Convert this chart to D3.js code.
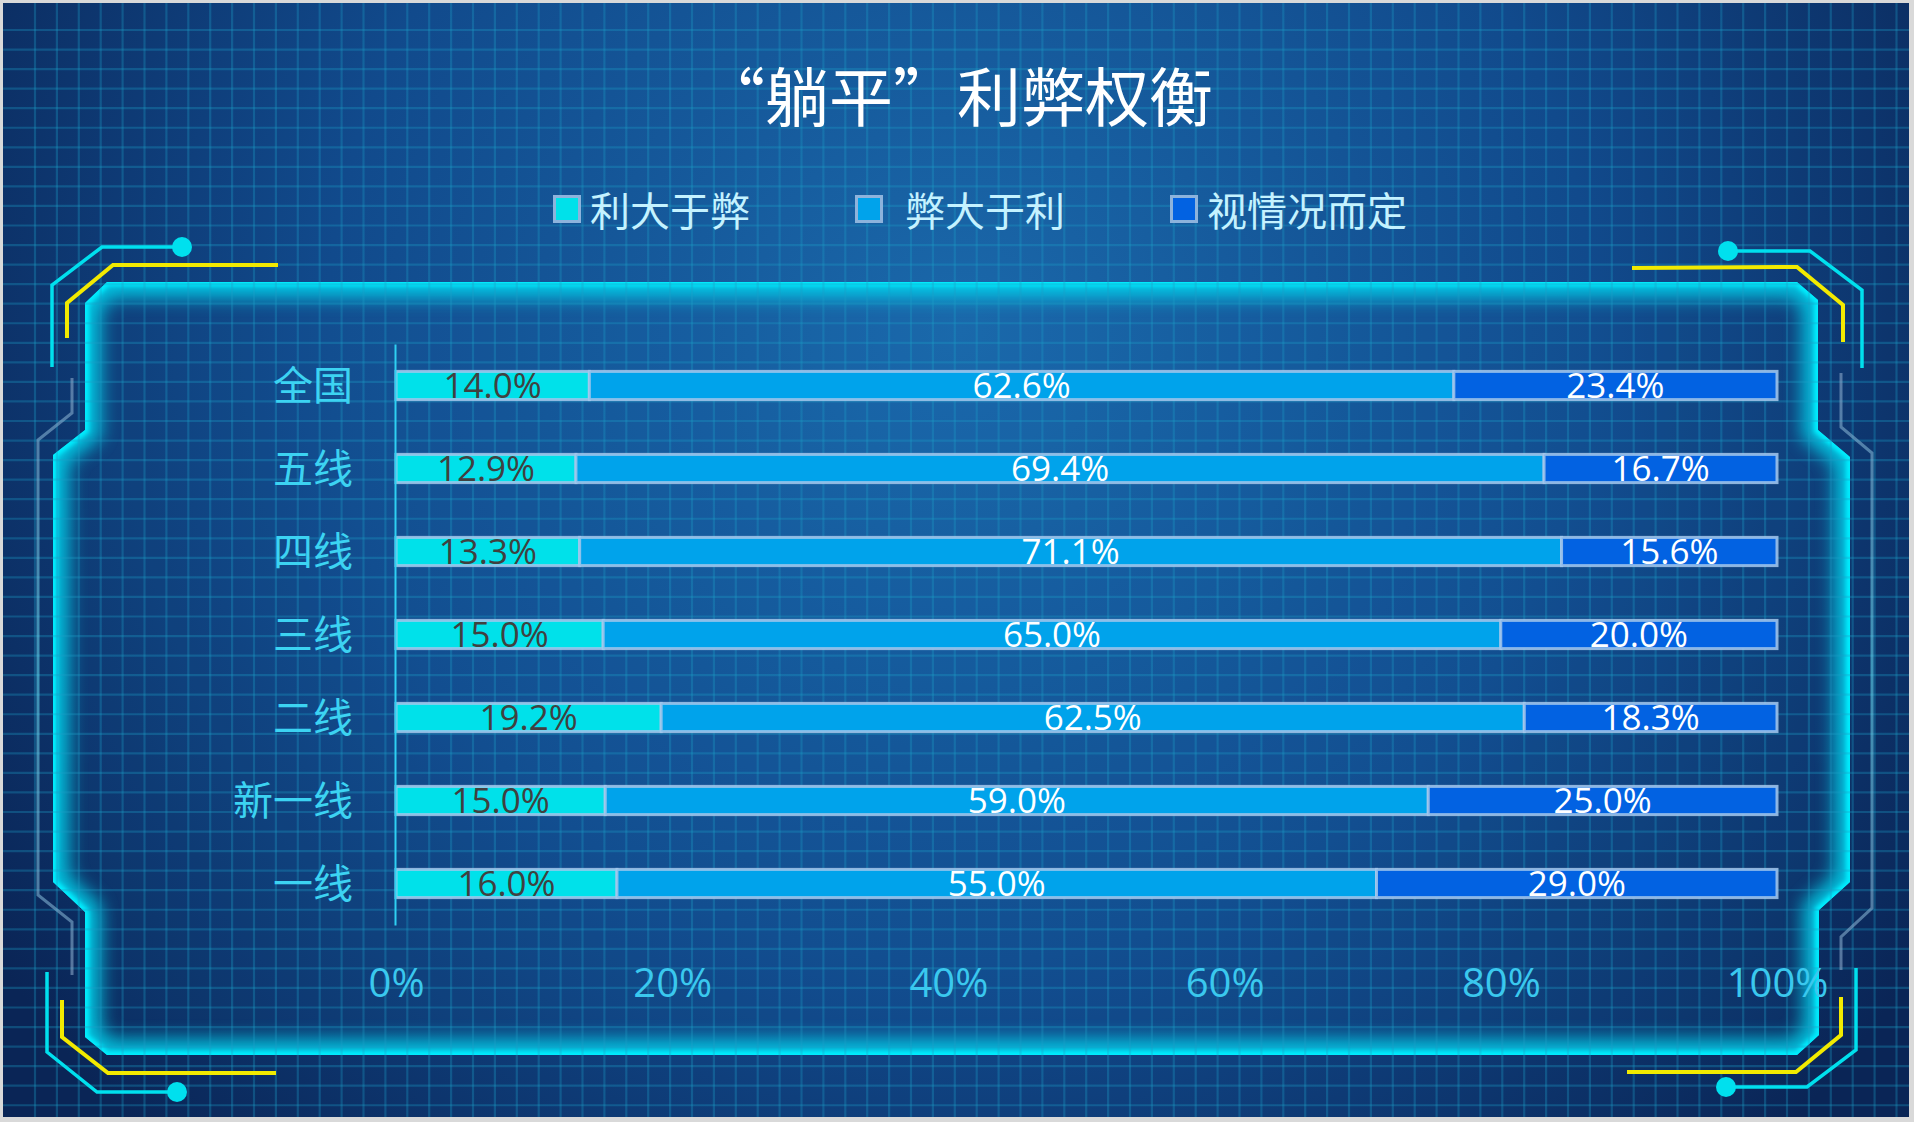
<!DOCTYPE html>
<html>
<head>
<meta charset="utf-8">
<script src="https://cdn.jsdelivr.net/npm/d3@7"></script>
<style>
    html, body { margin: 0; padding: 0; background: #d9d9d9; overflow: hidden; }
    svg { display: block; }
</style>
</head>
<body>
<svg id="chart" width="1914" height="1122"></svg>
<script>
// categories, top to bottom
const categories = ["全国", "五线", "四线", "三线", "二线", "新一线", "一线"];
const seriesNames = ["利大于弊", "弊大于利", "视情况而定"];

// series values (%)
const benefitMore = [14.0, 12.9, 13.3, 15.0, 19.2, 15.0, 16.0];
const harmMore = [62.6, 69.4, 71.1, 65.0, 62.5, 59.0, 55.0];
const depends = [23.4, 16.7, 15.6, 20.0, 18.3, 25.0, 29.0];

const xTicks = [0, 0.2, 0.4, 0.6, 0.8, 1];

const title = "“躺平”利弊权衡";

const width = 1914;
const height = 1122;
const seriesColors = ["#00e1ea", "#00a3eb", "#0262e2"];
const labelColors = ["#404040", "#ffffff", "#ffffff"];
const cnFont = "'Noto Sans CJK SC', 'Noto Sans', sans-serif";
const numFont = "'Open Sans', 'Noto Sans', sans-serif";

const svg = d3.select("#chart");
const defs = svg.append("defs");

// background gradient
const bgGrad = defs.append("radialGradient")
    .attr("id", "bgGrad")
    .attr("gradientUnits", "userSpaceOnUse")
    .attr("cx", 960).attr("cy", 330).attr("r", 1150);
bgGrad.append("stop").attr("offset", "0").attr("stop-color", "#1a68aa");
bgGrad.append("stop").attr("offset", "0.55").attr("stop-color", "#114a8c");
bgGrad.append("stop").attr("offset", "1").attr("stop-color", "#0a2556");

svg.append("rect")
    .attr("x", 3).attr("y", 3)
    .attr("width", width - 8).attr("height", height - 8)
    .attr("fill", "url(#bgGrad)");

// glowing panel behind the chart
const panelPoints = [
    [107, 282], [1797, 282], [1818, 300], [1818, 430], [1850, 457], [1850, 882],
    [1819, 910], [1819, 1035], [1797, 1055], [107, 1055], [85, 1037], [85, 912],
    [53, 882], [53, 455], [85, 430], [85, 303]
];
const panelPath = "M" + panelPoints.map(p => p.join(",")).join("L") + "Z";

defs.append("clipPath").attr("id", "panelClip")
    .append("path").attr("d", panelPath);
defs.append("filter").attr("id", "glow")
    .attr("x", "-10%").attr("y", "-10%").attr("width", "120%").attr("height", "120%")
    .append("feGaussianBlur").attr("stdDeviation", 9);
defs.append("filter").attr("id", "soft")
    .append("feGaussianBlur").attr("stdDeviation", 2);

svg.append("path")
    .attr("d", panelPath)
    .attr("fill", "#1a74b8")
    .attr("fill-opacity", 0.1);

const glow = svg.append("g").attr("clip-path", "url(#panelClip)");
glow.append("path")
    .attr("d", panelPath)
    .attr("fill", "none")
    .attr("stroke", "#00d8f0")
    .attr("stroke-width", 32)
    .attr("opacity", 0.85)
    .attr("filter", "url(#glow)");
glow.append("path")
    .attr("d", panelPath)
    .attr("fill", "none")
    .attr("stroke", "#05eeff")
    .attr("stroke-width", 8)
    .attr("filter", "url(#soft)");

// background grid
const grid = svg.append("g").attr("stroke", "#1d9ec8").attr("stroke-opacity", 0.32).attr("stroke-width", 2.2);
grid.selectAll("line.v")
    .data(d3.range(35, width - 4, 21.9))
    .join("line")
    .attr("x1", d => d).attr("x2", d => d)
    .attr("y1", 3).attr("y2", height - 5);
grid.selectAll("line.h")
    .data(d3.range(30, height - 4, 19.55))
    .join("line")
    .attr("x1", 3).attr("x2", width - 5)
    .attr("y1", d => d).attr("y2", d => d);

// corner decorations
const line = d3.line();
const deco = svg.append("g").attr("fill", "none").attr("stroke-linejoin", "miter");

const grayGrad = defs.append("linearGradient")
    .attr("id", "grayGrad").attr("x1", 0).attr("y1", 0).attr("x2", 0).attr("y2", 1);
grayGrad.append("stop").attr("offset", "0").attr("stop-color", "#8aa6c8");
grayGrad.append("stop").attr("offset", "0.5").attr("stop-color", "#5fd6ee");
grayGrad.append("stop").attr("offset", "1").attr("stop-color", "#8aa6c8");

[
    [[72, 378], [72, 413], [38, 440], [38, 895], [72, 922], [72, 975]],
    [[1841, 373], [1841, 427], [1872, 453], [1872, 908], [1841, 937], [1841, 970]]
].forEach(pts => {
    deco.append("path").attr("d", line(pts))
        .attr("stroke", "url(#grayGrad)").attr("stroke-width", 3).attr("opacity", 0.6);
});

const cyanLines = [
    [[52, 367], [52, 285], [102, 247], [182, 247]],
    [[1862, 368], [1862, 290], [1810, 251], [1728, 251]],
    [[47, 972], [47, 1052], [97, 1092], [177, 1092]],
    [[1856, 968], [1856, 1050], [1807, 1087], [1726, 1087]]
];
cyanLines.forEach(pts => {
    deco.append("path").attr("d", line(pts))
        .attr("stroke", "#00e0ee").attr("stroke-width", 3.5);
    const end = pts[pts.length - 1];
    deco.append("circle").attr("cx", end[0]).attr("cy", end[1]).attr("r", 10)
        .attr("fill", "#00e0ee").attr("stroke", "none");
});

const yellowLines = [
    [[67, 338], [67, 303], [113, 265], [278, 265]],
    [[1843, 342], [1843, 305], [1797, 267], [1632, 268]],
    [[62, 1000], [62, 1037], [108, 1073], [276, 1073]],
    [[1841, 997], [1841, 1035], [1796, 1072], [1627, 1072]]
];
yellowLines.forEach(pts => {
    deco.append("path").attr("d", line(pts))
        .attr("stroke", "#f2ea00").attr("stroke-width", 4);
});

// title
svg.append("text")
    .attr("x", 957)
    .attr("y", 93)
    .attr("text-anchor", "middle")
    .attr("dominant-baseline", "central")
    .attr("font-family", cnFont)
    .attr("font-size", 64)
    .attr("fill", "#ffffff")
    .text(title);

// legend
const legendSquareX = [553, 855, 1170];
const legendTextX = [590, 905, 1207];
const legend = svg.append("g");
seriesNames.forEach((name, i) => {
    legend.append("rect")
        .attr("x", legendSquareX[i] + 1.5).attr("y", 196.5)
        .attr("width", 25).attr("height", 25)
        .attr("fill", seriesColors[i])
        .attr("stroke", "#8db3dc")
        .attr("stroke-width", 3);
    legend.append("text")
        .attr("x", legendTextX[i]).attr("y", 209)
        .attr("dominant-baseline", "central")
        .attr("font-family", cnFont)
        .attr("font-size", 40)
        .attr("fill", "#c4f2ff")
        .text(name);
});

// scales (100% stacked)
const x = d3.scaleLinear().domain([0, 1]).range([396, 1777]);
const y = d3.scaleBand().domain(categories).range([344, 925]).paddingInner(0.66).paddingOuter(0.33);

// stacked data
const rows = categories.map((c, i) => ({
    category: c,
    [seriesNames[0]]: benefitMore[i],
    [seriesNames[1]]: harmMore[i],
    [seriesNames[2]]: depends[i]
}));
const stacked = d3.stack().keys(seriesNames).offset(d3.stackOffsetExpand)(rows);

const bars = svg.append("g");
stacked.forEach((layer, k) => {
    const key = layer.key;
    const g = bars.append("g");
    g.selectAll("rect")
        .data(layer)
        .join("rect")
        .attr("x", d => x(d[0]))
        .attr("y", d => y(d.data.category))
        .attr("width", d => x(d[1]) - x(d[0]))
        .attr("height", y.bandwidth())
        .attr("fill", seriesColors[k])
        .attr("stroke", "#a4c8ec")
        .attr("stroke-opacity", 0.85)
        .attr("stroke-width", 3);
    g.selectAll("text")
        .data(layer)
        .join("text")
        .attr("x", d => (x(d[0]) + x(d[1])) / 2)
        .attr("y", d => y(d.data.category) + y.bandwidth() / 2)
        .attr("dy", "0.36em")
        .attr("text-anchor", "middle")
        .attr("font-family", numFont)
        .attr("font-size", 35)
        .attr("fill", labelColors[k])
        .text(d => d.data[key].toFixed(1) + "%");
});

// y axis
const yAxis = svg.append("g")
    .attr("transform", "translate(395,0)")
    .call(d3.axisLeft(y).tickSize(0).tickPadding(42));
yAxis.select(".domain").attr("stroke", "#2fd0f2").attr("stroke-width", 2);
yAxis.selectAll(".tick text")
    .attr("font-family", cnFont)
    .attr("font-size", 40)
    .attr("fill", "#3cd3f2")
    .attr("dy", "0.36em");

// x axis
const xAxis = svg.append("g")
    .attr("transform", "translate(0,983)")
    .call(d3.axisBottom(x).tickValues(xTicks).tickFormat(d3.format(".0%")).tickSize(0));
xAxis.select(".domain").remove();
xAxis.selectAll(".tick text")
    .attr("y", 0)
    .attr("dy", "0.36em")
    .attr("font-family", numFont)
    .attr("font-size", 40)
    .attr("fill", "#3ac8ee");
</script>
</body>
</html>
